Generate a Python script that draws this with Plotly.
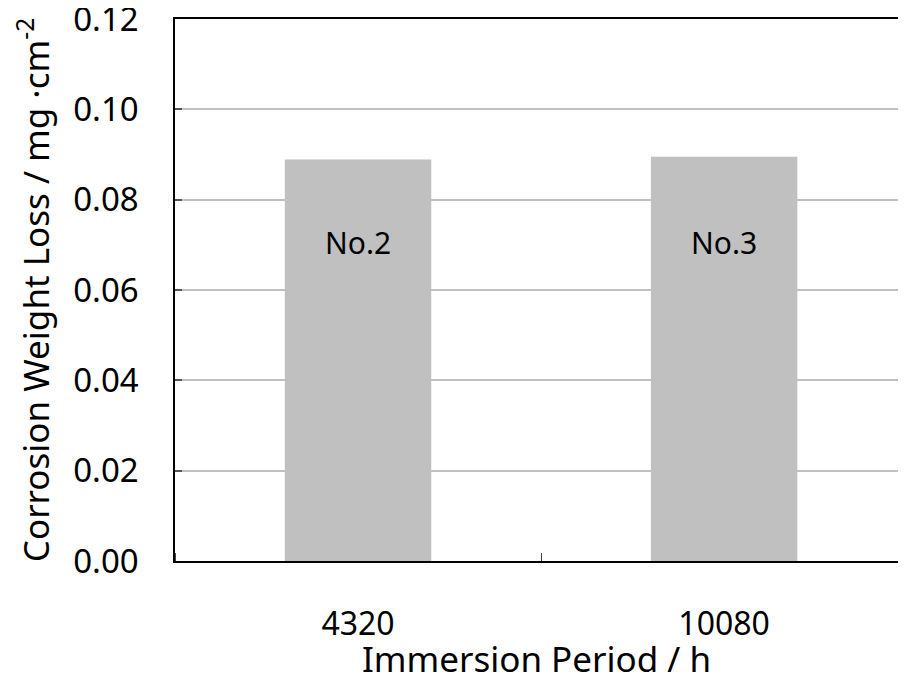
import plotly.graph_objects as go

categories = ["4320", "10080"]
values = [0.0889, 0.0895]
labels = ["No.2", "No.3"]
label_y = [0.0705, 0.0705]
y_ticks = [0.00, 0.02, 0.04, 0.06, 0.08, 0.10, 0.12]

xpos = list(range(len(categories)))

fig = go.Figure()
fig.add_trace(go.Bar(x=xpos, y=values, width=0.4,
                     marker=dict(color="#c0c0c0", line=dict(width=0)),
                     showlegend=False))
for xp, t, ly in zip(xpos, labels, label_y):
    fig.add_annotation(x=xp, y=ly, text=t, showarrow=False,
                       font=dict(size=30, color="black", family="Noto Sans"))

fig.update_layout(
    template="none",
    width=890, height=674,
    margin=dict(l=167, r=0, t=11, b=121),
    plot_bgcolor="white", paper_bgcolor="white",
    font=dict(family="Noto Sans", color="black"),
    xaxis=dict(
        range=[-0.5, 1.475], tickmode="array", tickvals=xpos, ticktext=categories,
        showline=True, linecolor="black", linewidth=1.5, mirror=True,
        ticks="", tickfont=dict(size=32), ticklabelstandoff=34,
        minor=dict(ticks="inside", tick0=0.5, dtick=1, ticklen=8, tickcolor="#444", tickwidth=1, showgrid=False),
        title=dict(text="Immersion Period / h", font=dict(size=35), standoff=27),
        showgrid=False, zeroline=False, automargin=False,
    ),
    yaxis=dict(
        range=[0, 0.12], tickmode="array", tickvals=y_ticks, tickformat=".2f",
        ticklabeloverflow="allow",
        showline=True, linecolor="black", linewidth=1.5, mirror=False,
        ticks="inside", ticklen=7, tickcolor="#555", tickwidth=2,
        tickfont=dict(size=33), ticklabelstandoff=28,
        showgrid=True, gridcolor="#c0c0c0", gridwidth=2,
        title=dict(text="Corrosion Weight Loss / mg ·cm<sup>-2</sup>", font=dict(size=35), standoff=20),
        zeroline=False, automargin=False,
    ),
)
fig.write_html("out.html")
